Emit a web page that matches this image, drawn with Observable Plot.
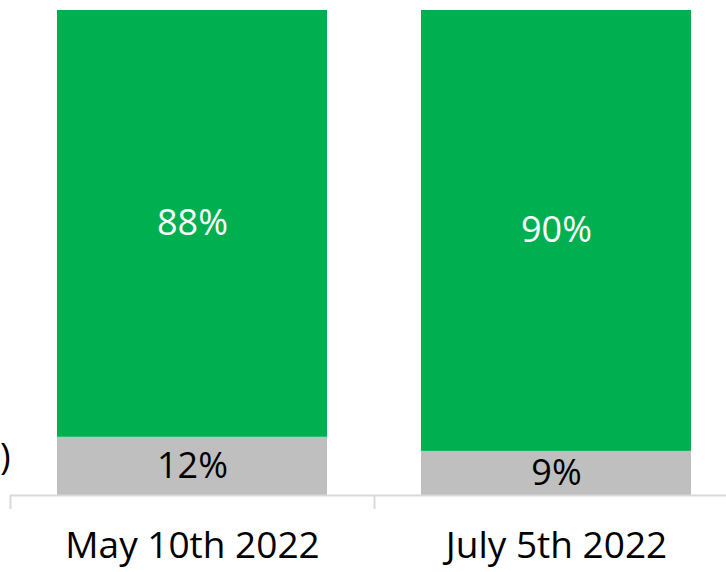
<!DOCTYPE html>
<html>
<head>
<meta charset="utf-8">
<script src="https://cdn.jsdelivr.net/npm/d3@7"></script>
<script src="https://cdn.jsdelivr.net/npm/@observablehq/plot@0.6"></script>
<style>
  html, body { margin: 0; padding: 0; background: #fff; }
  #wrap { position: relative; width: 726px; height: 572px; overflow: hidden; font-family: "Open Sans", sans-serif; }
  #legendFrag { position: absolute; left: 0px; top: 438px; font-size: 36px; color: #000; line-height: 1; }
</style>
</head>
<body>
<div id="wrap"><span id="legendFrag">)</span></div>
<script>
const categories = ["May 10th 2022", "July 5th 2022"];
const series = ["Other", "Main"];
const otherValues = [12, 9];
const mainValues = [88, 90];
const seriesColors = ["#bfbfbf", "#00b050"];
const labelColors = ["#000000", "#ffffff"];

const rows = [];
categories.forEach((c, i) => {
  rows.push({cat: c, series: series[0], value: otherValues[i]});
  rows.push({cat: c, series: series[1], value: mainValues[i]});
});

const W = 726, H = 572;
const xRange = [10, 738];
const step = (xRange[1] - xRange[0]) / categories.length;

const chart = Plot.plot({
  width: W,
  height: H,
  marginTop: 10,
  marginBottom: 77,
  marginLeft: 10,
  marginRight: 0,
  style: {fontFamily: "'Open Sans', sans-serif", background: "#fff", overflow: "hidden"},
  x: {domain: categories, range: xRange, paddingInner: 0.258, paddingOuter: 0.129, label: null},
  y: {domain: [0, 1], axis: null},
  color: {domain: series, range: seriesColors},
  marks: [
    Plot.barY(rows, Plot.stackY({offset: "normalize", order: series, x: "cat", y: "value", fill: "series"})),
    Plot.text(rows, Plot.stackY({offset: "normalize", order: series, x: "cat", y: "value", z: "series",
      text: d => d.value + "%", fill: d => labelColors[series.indexOf(d.series)], fontSize: 36})),
    Plot.ruleY([0], {stroke: "#d9d9d9", strokeWidth: 2}),
    Plot.ruleX(categories, {x: d => d, y1: 0, y2: 0, dx: -step / 2, insetBottom: -14, stroke: "#d9d9d9", strokeWidth: 2}),
    Plot.axisX({tickSize: 0, tickPadding: 36, fontSize: 37, fill: "#000", label: null})
  ]
});
document.getElementById("wrap").prepend(chart);
</script>
</body>
</html>
